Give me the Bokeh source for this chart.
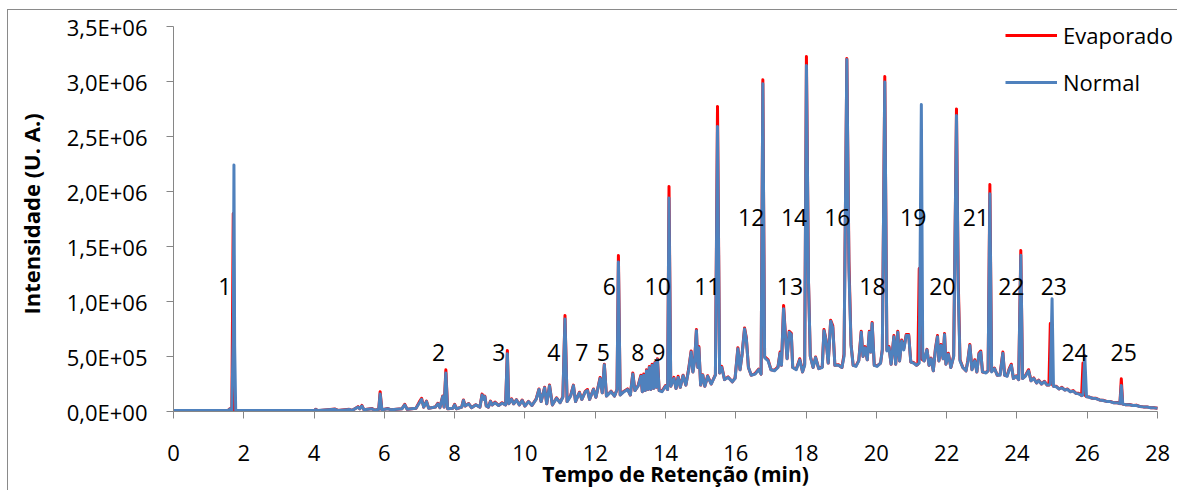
import math
from bokeh.plotting import figure
from bokeh.models import Range1d, FixedTicker, Legend, LegendItem, ColumnDataSource
from bokeh.core.properties import value
from bokeh.embed import file_html
from bokeh.resources import INLINE

# ---------------- data ----------------
# retention time (min)
time_min = [
    0.00, 1.55, 1.60, 1.66, 1.70, 1.72, 1.74, 1.77, 4.00, 4.05, 4.10, 4.60, 4.68, 5.00, 5.08,
    5.25, 5.30, 5.36, 5.42, 5.65, 5.72, 5.84, 5.88, 5.93, 6.10, 6.20, 6.50, 6.58, 6.65, 6.90,
    7.00, 7.06, 7.12, 7.20, 7.26, 7.45, 7.52, 7.58, 7.66, 7.70, 7.75, 7.80, 7.95, 8.00, 8.05,
    8.20, 8.25, 8.30, 8.40, 8.48, 8.60, 8.72, 8.78, 8.83, 8.86, 8.90, 8.96, 9.02, 9.07, 9.15,
    9.25, 9.35, 9.45, 9.50, 9.54, 9.62, 9.68, 9.76, 9.84, 9.92, 10.00, 10.10, 10.20, 10.32, 10.40,
    10.46, 10.56, 10.62, 10.70, 10.78, 10.90, 11.00, 11.08, 11.14, 11.20, 11.30, 11.38, 11.44, 11.55, 11.62,
    11.72, 11.78, 11.84, 11.95, 12.02, 12.14, 12.20, 12.26, 12.32, 12.45, 12.55, 12.62, 12.66, 12.71, 12.82,
    12.92, 13.00, 13.07, 13.13, 13.22, 13.30, 13.34, 13.38, 13.42, 13.46, 13.50, 13.54, 13.58, 13.62, 13.66,
    13.70, 13.74, 13.77, 13.82, 13.90, 14.00, 14.06, 14.10, 14.15, 14.24, 14.30, 14.36, 14.42, 14.50, 14.58,
    14.66, 14.73, 14.78, 14.83, 14.88, 14.92, 14.95, 15.00, 15.06, 15.12, 15.20, 15.30, 15.42, 15.48, 15.54,
    15.60, 15.68, 15.78, 15.90, 15.98, 16.06, 16.12, 16.18, 16.25, 16.30, 16.36, 16.44, 16.55, 16.65, 16.72,
    16.77, 16.82, 16.92, 17.00, 17.10, 17.20, 17.26, 17.30, 17.36, 17.41, 17.46, 17.52, 17.58, 17.62, 17.72,
    17.82, 17.90, 17.96, 18.01, 18.07, 18.12, 18.20, 18.27, 18.36, 18.46, 18.51, 18.57, 18.63, 18.70, 18.76,
    18.82, 18.92, 19.02, 19.08, 19.16, 19.22, 19.28, 19.34, 19.42, 19.50, 19.57, 19.62, 19.68, 19.74, 19.80,
    19.84, 19.88, 19.94, 20.02, 20.12, 20.17, 20.24, 20.30, 20.36, 20.42, 20.50, 20.55, 20.61, 20.66, 20.72,
    20.78, 20.85, 20.92, 20.98, 21.06, 21.14, 21.18, 21.22, 21.28, 21.32, 21.36, 21.44, 21.50, 21.56, 21.62,
    21.68, 21.74, 21.78, 21.84, 21.90, 21.94, 21.98, 22.05, 22.12, 22.20, 22.28, 22.33, 22.38, 22.46, 22.55,
    22.60, 22.66, 22.72, 22.80, 22.86, 22.92, 22.97, 23.02, 23.12, 23.18, 23.23, 23.28, 23.36, 23.44, 23.52,
    23.60, 23.65, 23.72, 23.78, 23.84, 23.90, 23.98, 24.05, 24.11, 24.16, 24.24, 24.33, 24.40, 24.48, 24.56,
    24.62, 24.70, 24.78, 24.86, 24.91, 24.95, 25.00, 25.04, 25.12, 25.20, 25.28, 25.36, 25.44, 25.52, 25.60,
    25.68, 25.76, 25.84, 25.88, 25.93, 25.98, 26.05, 26.15, 26.25, 26.35, 26.45, 26.55, 26.65, 26.75, 26.85,
    26.93, 26.97, 27.01, 27.10, 27.20, 27.30, 27.40, 27.50, 27.60, 27.70, 27.80, 27.90, 28.00,
]

# intensity, thousands of arbitrary units - "Normal"
normal_k = [
    8, 8, 22, 12, 700, 2240, 600, 10, 8, 18, 8, 20, 10, 18, 10,
    40, 25, 50, 15, 25, 12, 20, 160, 15, 25, 15, 25, 60, 20, 30,
    80, 110, 40, 90, 30, 40, 70, 35, 135, 40, 350, 25, 30, 60, 25,
    40, 100, 50, 70, 35, 60, 40, 150, 110, 135, 50, 40, 90, 60, 80,
    55, 75, 60, 525, 70, 110, 70, 105, 60, 100, 50, 90, 55, 110, 200,
    90, 215, 70, 235, 60, 120, 80, 130, 842, 90, 140, 235, 90, 170, 110,
    180, 190, 110, 200, 130, 300, 170, 425, 140, 180, 140, 200, 1360, 150, 180,
    200, 150, 340, 190, 230, 320, 180, 330, 190, 370, 200, 400, 200, 420, 210,
    440, 220, 470, 190, 180, 230, 200, 1940, 230, 300, 210, 310, 220, 325, 240,
    380, 540, 360, 460, 735, 400, 580, 240, 330, 230, 320, 250, 330, 2590, 350,
    400, 290, 310, 270, 300, 570, 380, 520, 750, 660, 400, 330, 340, 380, 340,
    2980, 490, 460, 380, 370, 400, 530, 420, 935, 700, 480, 720, 700, 400, 380,
    470, 360, 420, 3145, 1160, 500, 400, 490, 390, 400, 735, 640, 440, 820, 760,
    420, 420, 400, 500, 3200, 1280, 600, 420, 410, 460, 720, 500, 580, 470, 720,
    540, 800, 420, 410, 440, 560, 2995, 550, 580, 430, 680, 430, 720, 460, 640,
    560, 690, 690, 450, 440, 420, 430, 440, 2790, 480, 460, 560, 420, 480, 370,
    560, 680, 460, 600, 480, 700, 430, 520, 400, 500, 2690, 1100, 460, 400, 370,
    450, 600, 380, 460, 360, 520, 540, 360, 350, 370, 1980, 360, 390, 330, 330,
    530, 330, 320, 380, 420, 300, 320, 290, 1420, 300, 320, 370, 280, 300, 260,
    280, 250, 270, 240, 240, 250, 1025, 230, 225, 205, 215, 195, 200, 180, 185,
    165, 160, 145, 150, 510, 135, 130, 120, 118, 105, 100, 92, 90, 80, 80,
    72, 236, 68, 62, 62, 55, 55, 45, 42, 40, 35, 33, 30,
]

# intensity, thousands of arbitrary units - "Evaporado"
evaporado_k = [
    8, 8, 24, 12, 1800, 900, 12, 10, 8, 20, 8, 22, 10, 20, 10,
    44, 25, 55, 15, 28, 12, 20, 180, 15, 27, 15, 25, 65, 20, 30,
    90, 120, 40, 95, 30, 40, 75, 35, 140, 40, 380, 25, 30, 65, 25,
    40, 105, 50, 72, 35, 62, 40, 158, 115, 140, 50, 40, 95, 60, 85,
    55, 80, 60, 555, 70, 115, 70, 108, 60, 105, 50, 92, 55, 115, 205,
    90, 220, 70, 240, 60, 125, 80, 135, 873, 90, 145, 240, 90, 175, 110,
    185, 200, 110, 205, 130, 310, 170, 430, 140, 185, 140, 200, 1418, 150, 185,
    205, 150, 350, 190, 235, 330, 180, 340, 190, 380, 200, 410, 200, 430, 210,
    445, 220, 480, 190, 185, 235, 200, 2045, 230, 310, 210, 320, 220, 330, 240,
    390, 550, 360, 470, 745, 400, 590, 240, 335, 230, 325, 250, 335, 2772, 350,
    410, 290, 315, 270, 305, 580, 380, 525, 760, 670, 400, 330, 345, 385, 340,
    3015, 500, 470, 380, 375, 405, 540, 420, 964, 710, 480, 730, 710, 400, 385,
    480, 360, 430, 3227, 1170, 505, 400, 495, 390, 405, 745, 650, 440, 830, 780,
    420, 425, 400, 520, 3209, 1366, 610, 420, 415, 465, 730, 500, 590, 470, 730,
    540, 810, 420, 415, 440, 565, 3045, 560, 590, 430, 690, 430, 730, 460, 650,
    570, 700, 700, 450, 445, 420, 430, 1300, 480, 470, 460, 565, 420, 485, 370,
    570, 690, 460, 610, 480, 710, 430, 530, 400, 505, 2751, 1190, 470, 400, 370,
    460, 610, 380, 470, 360, 530, 550, 360, 355, 370, 2063, 365, 395, 330, 335,
    540, 330, 325, 390, 430, 300, 325, 290, 1464, 300, 325, 380, 280, 305, 260,
    285, 250, 275, 240, 240, 800, 250, 230, 230, 205, 220, 195, 205, 180, 190,
    165, 165, 145, 440, 150, 135, 133, 120, 120, 105, 102, 92, 92, 80, 82,
    72, 297, 68, 62, 64, 55, 58, 45, 42, 42, 35, 35, 30,
]

series_names = ["Evaporado", "Normal"]

# peak numbers and where they are written
peak_ids = ["1", "2", "3", "4", "7", "5", "8", "9", "6", "10", "11", "12", "13",
            "14", "16", "18", "19", "20", "21", "22", "23", "24", "25"]
peak_label_t = [1.46, 7.54, 9.26, 10.82, 11.62, 12.23, 13.21, 13.81, 12.40, 13.78, 15.19, 16.44, 17.54,
                17.66, 18.89, 19.89, 21.05, 21.88, 22.83, 23.84, 25.05, 25.64, 27.04]
peak_label_y = [1.136e6, 0.539e6, 0.539e6, 0.539e6, 0.539e6, 0.539e6, 0.539e6, 0.539e6, 1.136e6, 1.136e6,
                1.136e6, 1.766e6, 1.136e6, 1.766e6, 1.766e6, 1.136e6, 1.766e6, 1.136e6, 1.766e6, 1.136e6,
                1.136e6, 0.539e6, 0.539e6]

x_ticks = [0, 2, 4, 6, 8, 10, 12, 14, 16, 18, 20, 22, 24, 26, 28]
y_ticks = [0, 500000, 1000000, 1500000, 2000000, 2500000, 3000000, 3500000]
y_tick_labels = ["0,0E+00", "5,0E+05", "1,0E+06", "1,5E+06", "2,0E+06", "2,5E+06", "3,0E+06", "3,5E+06"]

x_title = "Tempo de Retenção (min)"
y_title = "Intensidade (U. A.)"

# ---------------- figure ----------------
FONT = "Open Sans"
RED = "#FF0000"
BLUE = "#4F81BD"
AXIS = "#868686"

src = ColumnDataSource(dict(
    t=time_min,
    normal=[v * 1000 for v in normal_k],
    evap=[v * 1000 for v in evaporado_k],
))

# the frame runs a little past the last ticks (axes are bounded) so the legend fits inside
FRAME_W, FRAME_H = 1004, 395
X_END = 28 * FRAME_W / 984
Y_END = 3.5e6 * FRAME_H / 385

p = figure(
    frame_width=FRAME_W, frame_height=FRAME_H,
    min_border_left=165, min_border_right=0, min_border_top=6, min_border_bottom=60,
    x_range=Range1d(0, X_END), y_range=Range1d(0, Y_END),
    output_backend="svg", toolbar_location=None,
)
p.styles = {"border-top": "1px solid #8a8a8a", "border-left": "1px solid #8a8a8a",
            "margin-left": "7px", "margin-top": "9px"}
p.outline_line_color = None
p.background_fill_color = "white"
p.border_fill_color = "white"
p.xgrid.visible = False
p.ygrid.visible = False

r_evap = p.line("t", "evap", source=src, line_color=RED, line_width=3, line_join="round")
r_norm = p.line("t", "normal", source=src, line_color=BLUE, line_width=3, line_join="round")

# axes
for ax in (p.xaxis[0], p.yaxis[0]):
    ax.axis_line_color = AXIS
    ax.axis_line_width = 1
    ax.major_tick_line_color = AXIS
    ax.major_tick_out = 7
    ax.major_tick_in = 0
    ax.minor_tick_line_color = None
    ax.major_label_text_font = FONT
    ax.major_label_text_font_size = "22px"
    ax.major_label_text_color = "#000000"
    ax.axis_label_text_font = FONT
    ax.axis_label_text_font_style = "bold"
    ax.axis_label_text_color = "#000000"

p.xaxis.bounds = (0, 28)
p.xaxis.ticker = FixedTicker(ticks=x_ticks)
p.xaxis.major_label_standoff = 26
p.xaxis.axis_label = x_title
p.xaxis.axis_label_text_font_size = "21px"
p.xaxis.axis_label_standoff = -4

p.yaxis.bounds = (0, 3.5e6)
p.yaxis.ticker = FixedTicker(ticks=y_ticks)
p.yaxis.major_label_overrides = {v: s for v, s in zip(y_ticks, y_tick_labels)}
p.yaxis.major_label_standoff = 19
p.yaxis.axis_label = y_title
p.yaxis.axis_label_text_font_size = "22px"
p.yaxis.axis_label_standoff = 18

# peak numbers
lab_src = ColumnDataSource(dict(x=peak_label_t, y=peak_label_y, text=peak_ids))
p.text("x", "y", text="text", source=lab_src, text_font=value(FONT), text_font_size="23px",
       text_align="center", text_baseline="middle", text_color="#000000")

# legend
legend = Legend(
    items=[LegendItem(label=series_names[0], renderers=[r_evap]),
           LegendItem(label=series_names[1], renderers=[r_norm])],
    location=(832, 314),
    orientation="vertical",
    glyph_width=52, glyph_height=30, label_height=30, spacing=17,
    label_standoff=6, padding=0, margin=0,
    label_text_font=FONT, label_text_font_size="22px", label_text_color="#000000",
    border_line_color=None, background_fill_alpha=0,
)
p.add_layout(legend)

open("out.html", "w").write(file_html(p, INLINE))
